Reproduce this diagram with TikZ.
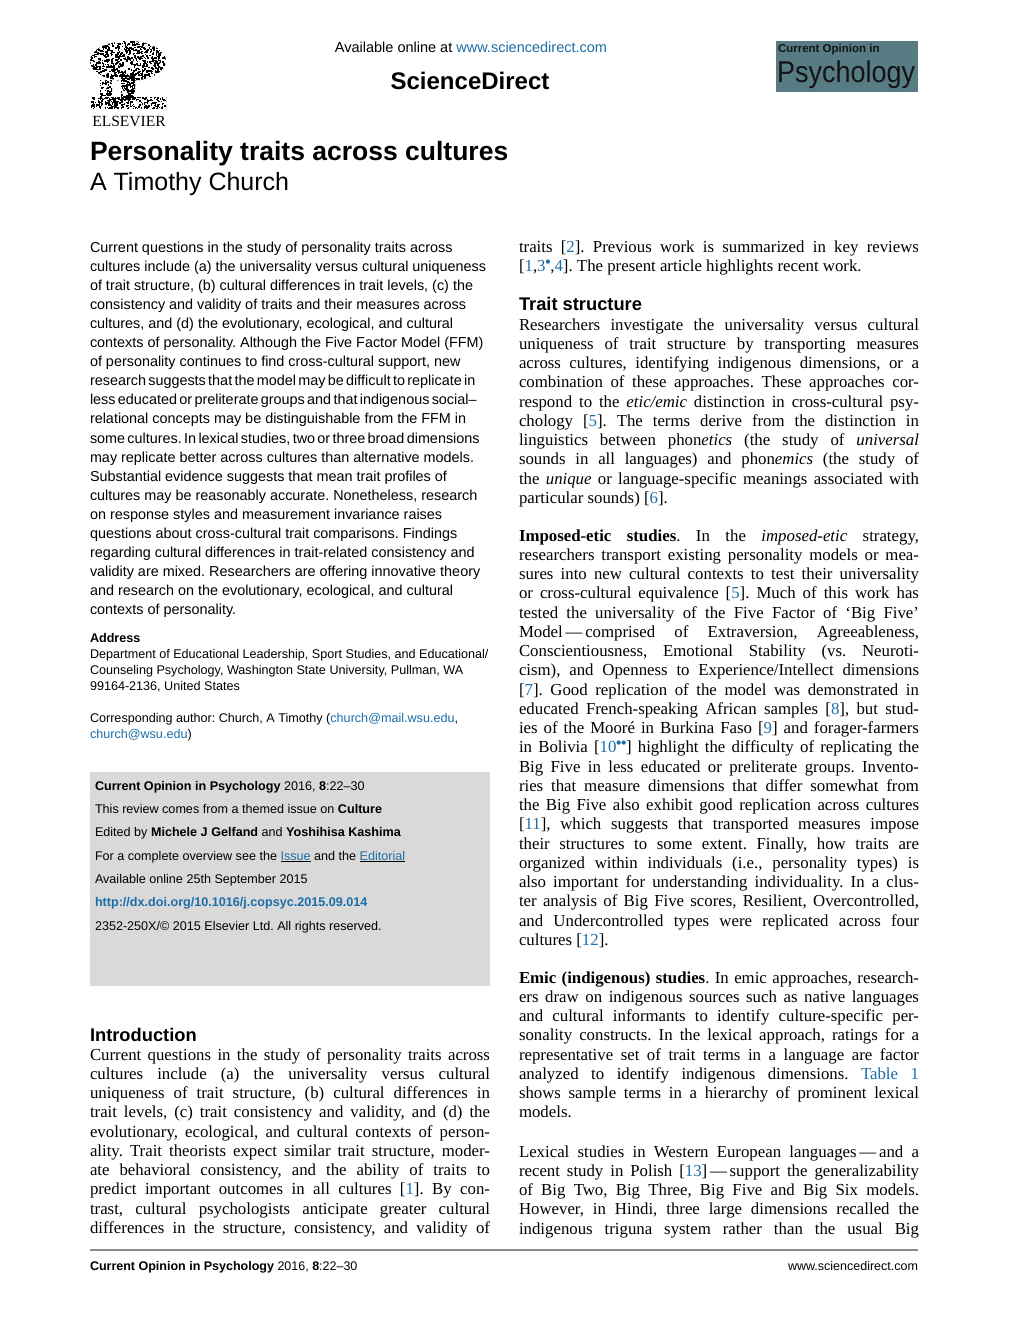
\documentclass[tikz,border=0pt]{standalone}
\usepackage{fontspec}
\setmainfont{Liberation Serif}
\setsansfont{Liberation Sans}
\newfontfamily\dvsans{DejaVu Sans}
\definecolor{linkblue}{RGB}{28,110,168}
\definecolor{boxgray}{RGB}{217,217,217}
\definecolor{logoteal}{RGB}{88,124,131}
\definecolor{logotext}{RGB}{20,20,20}
\definecolor{rulegray}{RGB}{140,140,140}
\newcommand\rf[1]{[\textcolor{linkblue}{#1}]}
\newcommand\lnk[1]{\textcolor{linkblue}{#1}}
\newcommand\ulnk[1]{\rlap{\textcolor{linkblue}{#1}}\underline{\phantom{#1}}}
\newcommand\absfont{\sffamily\fontsize{14.4}{19.1}\selectfont\frenchspacing}
\newcommand\bodyfont{\rmfamily\fontsize{16.8}{19.25}\selectfont\frenchspacing}
\newcommand\smallsf{\sffamily\fontsize{12.6}{16}\selectfont\frenchspacing}
\newcommand\tightsp{\spaceskip=2.3pt\relax}
\newcommand\dg{\raisebox{8pt}{\dvsans\fontsize{5.5}{5.5}\selectfont ●}}
\newcommand\jpar[1]{\parbox[t]{400pt}{\bodyfont\tolerance=10000\hbadness=10000\hyphenpenalty=10000\exhyphenpenalty=10000 #1}}
\newcommand\jparfull[1]{\parbox[t]{400pt}{\bodyfont\tolerance=10000\hbadness=10000\hyphenpenalty=10000\exhyphenpenalty=10000\parfillskip=0pt #1}}
\begin{document}
\frenchspacing
\begin{tikzpicture}[x=1pt,y=-1pt,
  txt/.style={anchor=base west,inner sep=0pt,outer sep=0pt},
  ctr/.style={anchor=base,inner sep=0pt,outer sep=0pt},
  rtxt/.style={anchor=base east,inner sep=0pt,outer sep=0pt},
  dot/.style={fill=black}]
\useasboundingbox (0,0) rectangle (1020,1323);
\fill[white] (0,0) rectangle (1020,1323);

% ---------- Elsevier logo ----------
\pgfmathsetseed{12}
\begin{scope}
\clip (128,61) ellipse [x radius=38, y radius=20];
\foreach \i in {1,...,800}{\fill[dot] ({89+78*rnd},{40+42*rnd}) rectangle ++(1.6,1.6);}
\end{scope}
\begin{scope}
\clip (121,74) rectangle (135,100);
\foreach \i in {1,...,160}{\fill[dot] ({120+15*rnd},{74+26*rnd}) rectangle ++(1.6,1.6);}
\end{scope}
\begin{scope}
\clip (91,97) rectangle (166,108);
\foreach \i in {1,...,260}{\fill[dot] ({90+77*rnd},{96+12*rnd}) rectangle ++(1.5,1.5);}
\end{scope}
\begin{scope}
\clip (100,80) rectangle (112,98);
\foreach \i in {1,...,60}{\fill[dot] ({99+13*rnd},{79+19*rnd}) rectangle ++(1.5,1.5);}
\end{scope}
\node[ctr] (elsevier) at (129,126) {\rmfamily\fontsize{15.5}{17}\selectfont ELSEVIER};

% ---------- header ----------
\node[ctr] (avail) at (471,52) {\sffamily\fontsize{14.5}{16}\selectfont Available online at \lnk{www.sciencedirect.com}};
\node[ctr] (sd) at (470,89) {\sffamily\bfseries\fontsize{24}{26}\selectfont ScienceDirect};
\fill[logoteal] (776,41) rectangle (918,92);
\node[txt] (coi) at (778,52) {\sffamily\bfseries\fontsize{11.5}{13}\selectfont\color{logotext}Current Opinion in};
\node[txt] (psy) at (777,82) {\sffamily\fontsize{30}{32}\selectfont\color{logotext}\scalebox{0.9}[1]{Psychology}};

% ---------- title ----------
\node[txt] (title) at (90,160) {\sffamily\bfseries\fontsize{26.5}{30}\selectfont Personality traits across cultures};
\node[txt] (author) at (90,190) {\sffamily\fontsize{25}{28}\selectfont A Timothy Church};

% ---------- abstract ----------
\node[txt] (abstract) at (90,252) {\parbox[t]{440pt}{\absfont\raggedright
Current questions in the study of personality traits across\\
cultures include (a) the universality versus cultural uniqueness\\
of trait structure, (b) cultural differences in trait levels, (c) the\\
consistency and validity of traits and their measures across\\
cultures, and (d) the evolutionary, ecological, and cultural\\
contexts of personality. Although the Five Factor Model (FFM)\\
of personality continues to find cross-cultural support, new\\
\mbox{\tightsp research suggests that the model may be difficult to replicate in}\\
\mbox{\tightsp less educated or preliterate groups and that indigenous social–}\\
relational concepts may be distinguishable from the FFM in\\
\mbox{\tightsp some cultures. In lexical studies, two or three broad dimensions}\\
may replicate better across cultures than alternative models.\\
Substantial evidence suggests that mean trait profiles of\\
cultures may be reasonably accurate. Nonetheless, research\\
on response styles and measurement invariance raises\\
questions about cross-cultural trait comparisons. Findings\\
regarding cultural differences in trait-related consistency and\\
validity are mixed. Researchers are offering innovative theory\\
and research on the evolutionary, ecological, and cultural\\
contexts of personality.}};

% ---------- address ----------
\node[txt] (address) at (90,642) {\parbox[t]{440pt}{\smallsf\raggedright
\textbf{Address}\\
Department of Educational Leadership, Sport Studies, and Educational/\\
Counseling Psychology, Washington State University, Pullman, WA\\
99164-2136, United States}};
\node[txt] (corresp) at (90,722) {\parbox[t]{440pt}{\smallsf\raggedright
Corresponding author: Church, A Timothy (\lnk{church@mail.wsu.edu},\\
\lnk{church@wsu.edu})}};

% ---------- info box ----------
\fill[boxgray] (90,772) rectangle (490,986);
\node[txt] (infobox) at (95,790) {\parbox[t]{440pt}{\sffamily\fontsize{12.6}{23.35}\selectfont\frenchspacing\raggedright
\textbf{Current Opinion in Psychology} 2016, \textbf{8}:22–30\\
This review comes from a themed issue on \textbf{Culture}\\
Edited by \textbf{Michele J Gelfand} and \textbf{Yoshihisa Kashima}\\
For a complete overview see the \ulnk{Issue} and the \ulnk{Editorial}\\
Available online 25th September 2015\\
\textbf{\lnk{http://dx.doi.org/10.1016/j.copsyc.2015.09.014}}\\
2352-250X/© 2015 Elsevier Ltd. All rights reserved.}};

% ---------- introduction ----------
\node[txt] (introhead) at (90,1041) {\sffamily\bfseries\fontsize{18.3}{20}\selectfont Introduction};
\node[txt] (intro) at (90,1060) {\jparfull{%
Current questions in the study of personality traits across\linebreak
cultures include (a) the universality versus cultural\linebreak
uniqueness of trait structure, (b) cultural differences in\linebreak
trait levels, (c) trait consistency and validity, and (d) the\linebreak
evolutionary, ecological, and cultural contexts of person-\linebreak
ality. Trait theorists expect similar trait structure, moder-\linebreak
ate behavioral consistency, and the ability of traits to\linebreak
predict important outcomes in all cultures \rf{1}. By con-\linebreak
trast, cultural psychologists anticipate greater cultural\linebreak
differences in the structure, consistency, and validity of}};

% ---------- right column ----------
\node[txt] (cont) at (519,252) {\jpar{%
traits \rf{2}. Previous work is summarized in key reviews\linebreak{}%
[\lnk{1},\lnk{3\dg},\lnk{4}]. The present article highlights recent work.}};

\node[txt] (traithead) at (519,310) {\sffamily\bfseries\fontsize{18.3}{20}\selectfont Trait structure};
\node[txt] (trait) at (519,330) {\jpar{%
Researchers investigate the universality versus cultural\linebreak
uniqueness of trait structure by transporting measures\linebreak
across cultures, identifying indigenous dimensions, or a\linebreak
combination of these approaches. These approaches cor-\linebreak
respond to the \textit{etic/emic} distinction in cross-cultural psy-\linebreak
chology \rf{5}. The terms derive from the distinction in\linebreak
linguistics between phon\textit{etics} (the study of \textit{universal}\linebreak
sounds in all languages) and phon\textit{emics} (the study of\linebreak
the \textit{unique} or language-specific meanings associated with\linebreak
particular sounds) \rf{6}.}};

\node[txt] (imposed) at (519,541) {\jpar{%
\textbf{Imposed-etic studies}. In the \textit{imposed-etic} strategy,\linebreak
researchers transport existing personality models or mea-\linebreak
sures into new cultural contexts to test their universality\linebreak
or cross-cultural equivalence \rf{5}. Much of this work has\linebreak
tested the universality of the Five Factor of ‘Big Five’\linebreak
Model\,—\,comprised of Extraversion, Agreeableness,\linebreak
Conscientiousness, Emotional Stability (vs. Neuroti-\linebreak
cism), and Openness to Experience/Intellect dimensions\linebreak{}%
\rf{7}. Good replication of the model was demonstrated in\linebreak
educated French-speaking African samples \rf{8}, but stud-\linebreak
ies of the Mooré in Burkina Faso \rf{9} and forager-farmers\linebreak
in Bolivia \rf{10\dg\dg} highlight the difficulty of replicating the\linebreak
Big Five in less educated or preliterate groups. Invento-\linebreak
ries that measure dimensions that differ somewhat from\linebreak
the Big Five also exhibit good replication across cultures\linebreak{}%
\rf{11}, which suggests that transported measures impose\linebreak
their structures to some extent. Finally, how traits are\linebreak
organized within individuals (i.e., personality types) is\linebreak
also important for understanding individuality. In a clus-\linebreak
ter analysis of Big Five scores, Resilient, Overcontrolled,\linebreak
and Undercontrolled types were replicated across four\linebreak
cultures \rf{12}.}};

\node[txt] (emic) at (519,983) {\jpar{%
\textbf{Emic (indigenous) studies}. In emic approaches, research-\linebreak
ers draw on indigenous sources such as native languages\linebreak
and cultural informants to identify culture-specific per-\linebreak
sonality constructs. In the lexical approach, ratings for a\linebreak
representative set of trait terms in a language are factor\linebreak
analyzed to identify indigenous dimensions. \lnk{Table 1}\linebreak
shows sample terms in a hierarchy of prominent lexical\linebreak
models.}};

\node[txt] (lexical) at (519,1157) {\jparfull{%
Lexical studies in Western European languages\,—\,and a\linebreak
recent study in Polish \rf{13}\,—\,support the generalizability\linebreak
of Big Two, Big Three, Big Five and Big Six models.\linebreak
However, in Hindi, three large dimensions recalled the\linebreak
indigenous triguna system rather than the usual Big}};

% ---------- footer ----------
\draw[rulegray, line width=1.1pt] (90,1250) -- (918,1250);
\node[txt] (footl) at (90,1270) {\sffamily\fontsize{12.5}{14}\selectfont\textbf{Current Opinion in Psychology} 2016, \textbf{8}:22–30};
\node[rtxt] (footr) at (918,1270) {\sffamily\fontsize{12.5}{14}\selectfont www.sciencedirect.com};
\end{tikzpicture}
\end{document}
